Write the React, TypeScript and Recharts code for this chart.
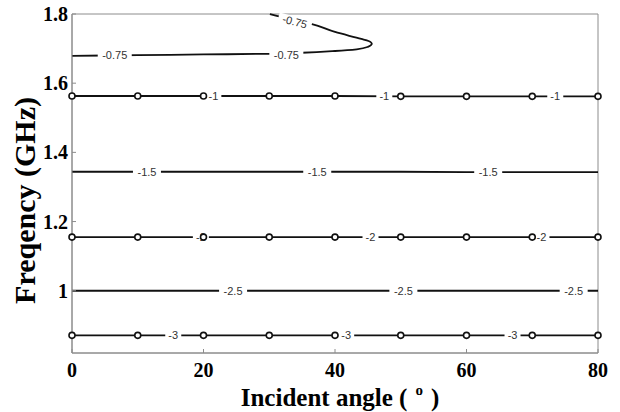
import React from 'react';
import { ComposedChart, Line, Scatter, XAxis, YAxis, Label, ReferenceArea } from 'recharts';

// contour levels (angle in degrees, frequency in GHz)
const ANGLES = [0, 10, 20, 30, 40, 50, 60, 70, 80];
const FREQ_M1 = [1.563, 1.563, 1.563, 1.563, 1.563, 1.562, 1.562, 1.562, 1.562];
const FREQ_M15 = [1.344, 1.344, 1.344, 1.344, 1.344, 1.344, 1.343, 1.343, 1.343];
const FREQ_M2 = [1.155, 1.155, 1.155, 1.155, 1.155, 1.155, 1.155, 1.155, 1.155];
const FREQ_M25 = [1.0, 1.0, 1.0, 1.0, 1.0, 1.0, 1.0, 1.0, 1.0];
const FREQ_M3 = [0.871, 0.871, 0.871, 0.871, 0.871, 0.871, 0.871, 0.871, 0.871];

// -0.75 contour
const C075_ANGLE = [0, 10, 20, 30, 35, 40, 43.3, 45, 45.6, 45.1, 44, 40, 36.5, 33, 30.1];
const C075_FREQ = [1.679, 1.681, 1.683, 1.685, 1.688, 1.693, 1.698, 1.705, 1.714, 1.722, 1.728, 1.748, 1.771, 1.786, 1.8];

// inline contour labels
const LBL_M075 = [6.5, 32.6];
const LBL_M075_UPPER = [{ x: 33.9, y: 1.778 }];
const LBL_M1 = [21.5, 47.5, 73.5];
const LBL_M15 = [11.4, 37.3, 63.3];
const LBL_M2 = [19.6, 45.4, 71.4];
const LBL_M25 = [24.5, 50.4, 76.3];
const LBL_M3 = [15.4, 41.7, 67];

const X_TICKS = [0, 20, 40, 60, 80];
const Y_TICKS = [1, 1.2, 1.4, 1.6, 1.8];

const pts = (xs: number[], ys: number[]) => xs.map((x, i) => ({ x, y: ys[i] }));
const labels = (xs: number[], y: number, text: string) => xs.map((x) => ({ x, y, text }));

const contourLabels = [
  ...labels(LBL_M075, 1.681, '-0.75'),
  ...labels(LBL_M1, FREQ_M1[0], '-1'),
  ...labels(LBL_M15, FREQ_M15[0], '-1.5'),
  ...labels(LBL_M2, FREQ_M2[0], '-2'),
  ...labels(LBL_M25, FREQ_M25[0], '-2.5'),
  ...labels(LBL_M3, FREQ_M3[0], '-3'),
];
const upperLabels = LBL_M075_UPPER.map((p) => ({ ...p, text: '-0.75' }));

const markerPts = [
  ...pts(ANGLES, FREQ_M1),
  ...pts(ANGLES, FREQ_M2),
  ...pts(ANGLES, FREQ_M3),
];

const SERIF = '"Liberation Serif", "Times New Roman", serif';
const SANS = '"Liberation Sans", Arial, sans-serif';
const BOX = '#8c8c8c';
const INK = '#111';

function ContourLabel(props: any) {
  const { cx, cy, payload, tilt = 0 } = props;
  const w = payload.text.length * 6 + 4;
  return (
    <g transform={`rotate(${tilt}, ${cx}, ${cy})`}>
      <rect x={cx - w / 2} y={cy - 5} width={w} height={10} fill="#fff" />
      <text
        x={cx}
        y={cy}
        dy="0.36em"
        textAnchor="middle"
        fontSize={11}
        fontFamily={SANS}
        fill="#333"
      >
        {payload.text}
      </text>
    </g>
  );
}

function Marker(props: any) {
  const { cx, cy } = props;
  return <circle cx={cx} cy={cy} r={3} fill="#fff" stroke={INK} strokeWidth={1.6} />;
}

const tickStyle = { fontFamily: SERIF, fontWeight: 700, fontSize: 20, fill: '#000' };

export default function App() {
  return (
    <div style={{ position: 'absolute', left: 0, top: 0, width: 620, height: 412, background: '#fff' }}>
      <ComposedChart width={620} height={412} margin={{ top: 14, right: 22, bottom: 0, left: 0 }}>
        <XAxis
          type="number"
          dataKey="x"
          domain={[0, 80]}
          ticks={X_TICKS}
          height={59}
          tickSize={-4}
          tickMargin={14}
          tick={tickStyle}
          axisLine={{ stroke: BOX }}
          tickLine={{ stroke: BOX }}
        >
          <Label
            content={(p: any) => {
              const vb = p.viewBox;
              const cx = vb.x + vb.width / 2 + 5;
              const by = vb.y + vb.height - 6;
              return (
                <text x={cx} y={by} textAnchor="middle" fontFamily={SERIF} fontWeight={700} fontSize={25} fill="#000">
                  <tspan>Incident angle (</tspan>
                  <tspan fontSize={15} dx={8} dy={-11}>o</tspan>
                  <tspan dx={8} dy={11}>)</tspan>
                </text>
              );
            }}
          />
        </XAxis>
        <XAxis
          xAxisId="top"
          orientation="top"
          type="number"
          domain={[0, 80]}
          ticks={X_TICKS}
          height={0}
          tickSize={-4}
          tick={false}
          axisLine={{ stroke: BOX }}
          tickLine={{ stroke: BOX }}
        />
        <YAxis
          type="number"
          dataKey="y"
          domain={[0.82, 1.8]}
          ticks={Y_TICKS}
          width={72}
          tickSize={-4}
          tickMargin={8}
          tick={tickStyle}
          tickFormatter={(v) => String(v)}
          axisLine={{ stroke: BOX }}
          tickLine={{ stroke: BOX }}
        >
          <Label
            content={(p: any) => {
              const vb = p.viewBox;
              const bx = 35;
              const cy = vb.y + vb.height / 2 + 17;
              return (
                <text
                  x={bx}
                  y={cy}
                  transform={`rotate(-90, ${bx}, ${cy})`}
                  textAnchor="middle"
                  fontFamily={SERIF}
                  fontWeight={700}
                  fontSize={30}
                  fill="#000"
                >
                  Freqency (GHz)
                </text>
              );
            }}
          />
        </YAxis>
        <YAxis
          yAxisId="right"
          orientation="right"
          type="number"
          domain={[0.82, 1.8]}
          ticks={Y_TICKS}
          width={0}
          tickSize={-4}
          tick={false}
          axisLine={{ stroke: BOX }}
          tickLine={{ stroke: BOX }}
        />

        {/* plot frame */}
        <ReferenceArea x1={0} x2={80} y1={0.82} y2={1.8} fill="none" stroke={BOX} strokeWidth={1} ifOverflow="visible" />

        <Line data={pts(C075_ANGLE, C075_FREQ)} dataKey="y" type="monotoneY" stroke={INK} strokeWidth={1.8} dot={false} isAnimationActive={false} />
        <Line data={pts(ANGLES, FREQ_M1)} dataKey="y" stroke={INK} strokeWidth={1.8} dot={false} isAnimationActive={false} />
        <Line data={pts(ANGLES, FREQ_M15)} dataKey="y" stroke={INK} strokeWidth={1.8} dot={false} isAnimationActive={false} />
        <Line data={pts(ANGLES, FREQ_M2)} dataKey="y" stroke={INK} strokeWidth={1.8} dot={false} isAnimationActive={false} />
        <Line data={pts(ANGLES, FREQ_M25)} dataKey="y" stroke={INK} strokeWidth={1.8} dot={false} isAnimationActive={false} />
        <Line data={pts(ANGLES, FREQ_M3)} dataKey="y" stroke={INK} strokeWidth={1.8} dot={false} isAnimationActive={false} />

        <Scatter data={contourLabels} shape={(p: any) => <ContourLabel {...p} />} isAnimationActive={false} />
        <Scatter data={upperLabels} shape={(p: any) => <ContourLabel {...p} tilt={15} />} isAnimationActive={false} />
        <Scatter data={markerPts} shape={(p: any) => <Marker {...p} />} isAnimationActive={false} />
      </ComposedChart>
    </div>
  );
}
